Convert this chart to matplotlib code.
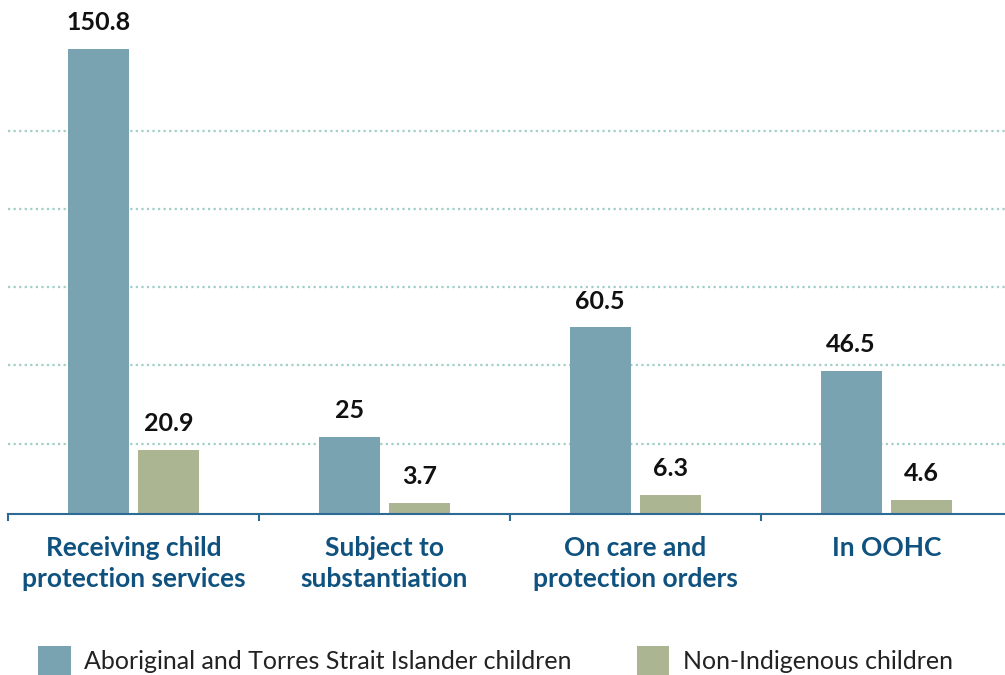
import matplotlib.pyplot as plt
import numpy as np

categories = ['Receiving child\nprotection services', 'Subject to\nsubstantiation',
              'On care and\nprotection orders', 'In OOHC']
indigenous = [150.8, 25, 60.5, 46.5]
non_indigenous = [20.9, 3.7, 6.3, 4.6]
series_labels = ['Aboriginal and Torres Strait Islander children', 'Non-Indigenous children']
grid_levels = [22.8, 48.2, 73.6, 99.0, 124.3]

blue = '#7aa3b2'
green = '#abb592'
axis_col = '#2d6b95'
label_col = '#0f5280'

if __name__ == '__main__':
    fig = plt.figure(figsize=(10.05, 6.75), dpi=100)
    ax = fig.add_axes([8 / 1005, 161 / 675, 1004 / 1005, 514 / 675])

    x = np.arange(len(categories))
    w = 0.243
    off = 0.141
    b1 = ax.bar(x - off, indigenous, w, color=blue, label=series_labels[0], zorder=2)
    b2 = ax.bar(x + off, non_indigenous, w, color=green, label=series_labels[1], zorder=2)

    for bars, vals in ((b1, indigenous), (b2, non_indigenous)):
        for r, v in zip(bars, vals):
            ax.annotate('{:g}'.format(v), (r.get_x() + r.get_width() / 2, v),
                        xytext=(0, 10.5), textcoords='offset points', ha='center', va='bottom',
                        fontsize=18, fontweight='bold', family=['Lato', 'DejaVu Sans'],
                        color='#111111')

    ax.set_xlim(-0.5, 3.5)
    ax.set_ylim(0, 166.7)
    ax.set_yticks(grid_levels)
    ax.yaxis.grid(True, linestyle=(0, (1, 1.5)), color='#9fcfc6', linewidth=1.6, zorder=0)
    ax.tick_params(axis='y', left=False, labelleft=False)
    ax.set_axisbelow(True)

    ax.set_xticks(x)
    ax.set_xticklabels(categories, fontsize=19, fontweight='bold', color=label_col,
                       family=['Lato', 'DejaVu Sans'], linespacing=1.32)
    ax.tick_params(axis='x', which='major', length=0, pad=16)
    ax.set_xticks(np.arange(-0.5, 4, 1), minor=True)
    ax.tick_params(axis='x', which='minor', length=5, width=1.5, color=axis_col, direction='out')

    for s in ('top', 'right', 'left'):
        ax.spines[s].set_visible(False)
    ax.spines['bottom'].set_color(axis_col)
    ax.spines['bottom'].set_linewidth(1.5)

    leg = fig.legend(handles=[b1, b2], labels=series_labels, loc='lower left',
                     bbox_to_anchor=(28 / 1005, -0.016), ncol=2, frameon=False,
                     prop={'family': ['Lato', 'DejaVu Sans'], 'size': 18},
                     handlelength=1.3, handleheight=1.45, handletextpad=0.55, columnspacing=2.6,
                     borderaxespad=0)
    for t in leg.get_texts():
        t.set_color('#222222')

    plt.savefig('out.png', dpi=100)
